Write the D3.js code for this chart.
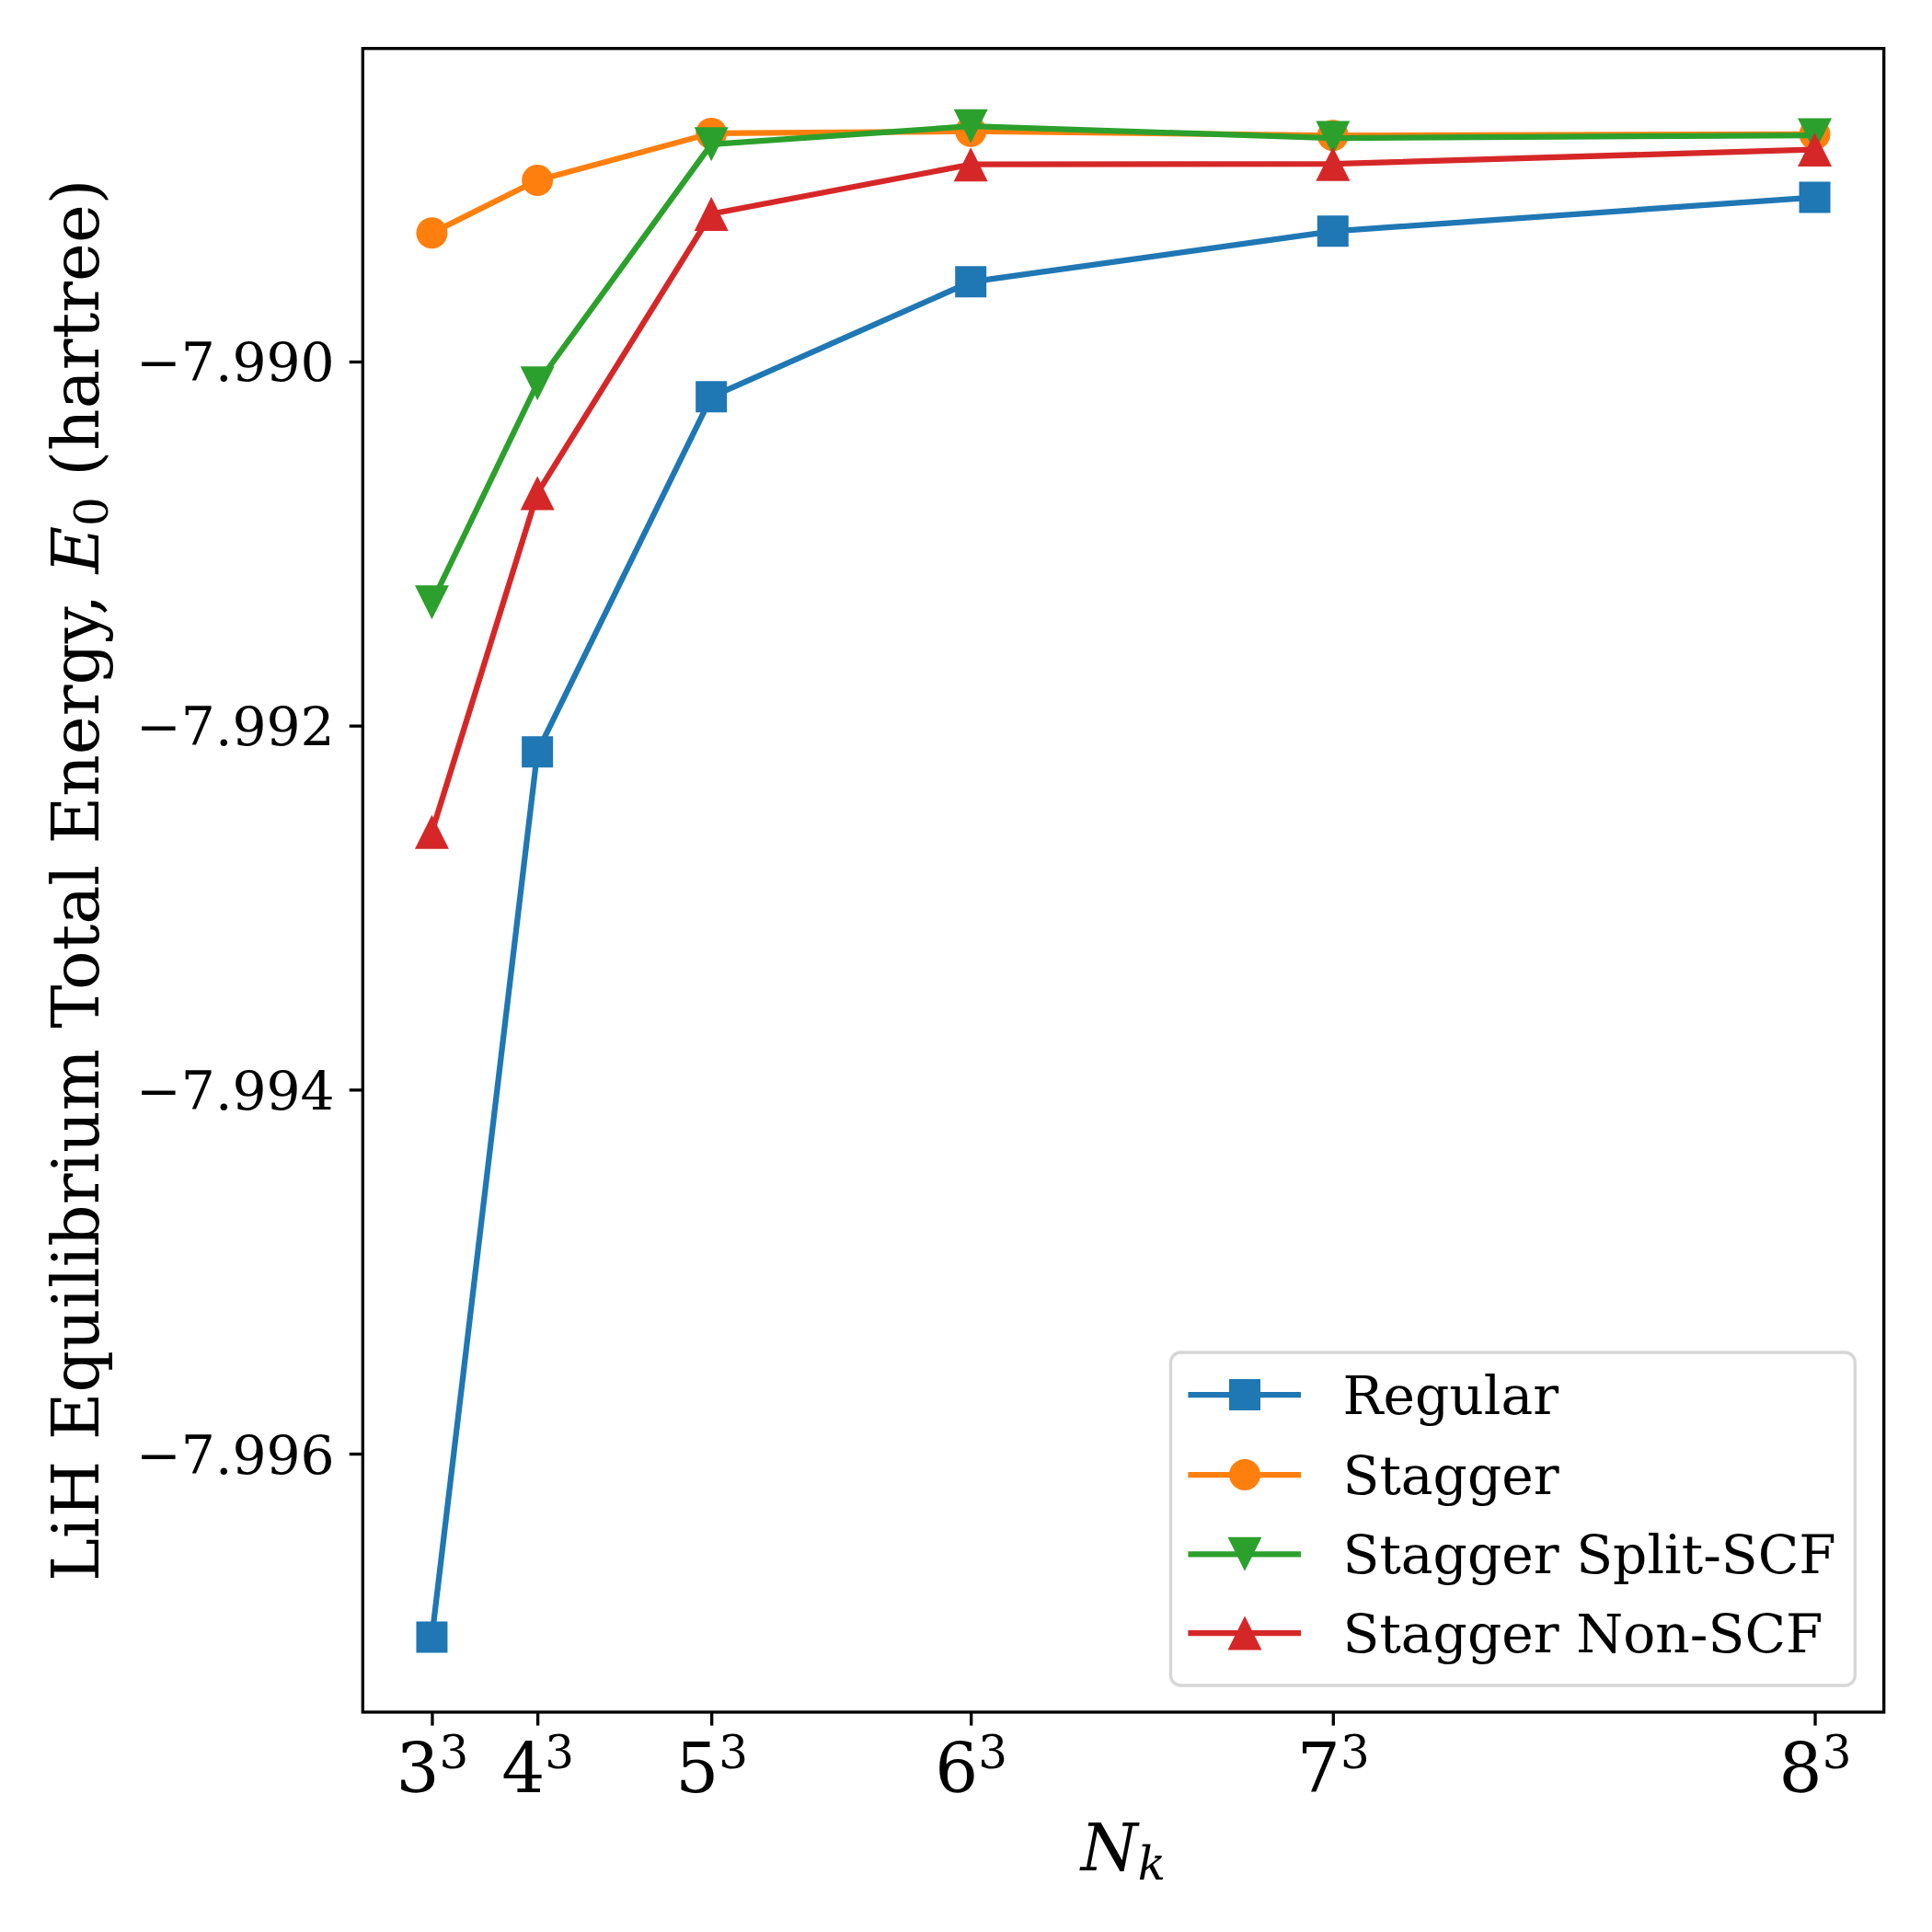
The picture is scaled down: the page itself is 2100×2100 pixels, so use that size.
<!DOCTYPE html>
<html>
<head>
<meta charset="utf-8">
<script src="https://cdn.jsdelivr.net/npm/d3@7"></script>
<style>
    body { margin: 0; background: #fff; }
    text { font-family: "DejaVu Serif", serif; fill: #000; }
</style>
</head>
<body>
<div id="chart"></div>
<script>
// k-point grids (n^3) along the x axis
var kBase = [3, 4, 5, 6, 7, 8];
var kPoints = [27, 64, 125, 216, 343, 512];

// LiH equilibrium total energy (hartree)
var regular = [-7.997008, -7.992145, -7.990194, -7.989562, -7.989284, -7.989098];
var stagger = [-7.989294, -7.989004, -7.988746, -7.988735, -7.988758, -7.988751];
var staggerSplit = [-7.991323, -7.990120, -7.988806, -7.988707, -7.988772, -7.988757];
var staggerNon = [-7.992584, -7.990723, -7.989189, -7.988917, -7.988914, -7.988835];

var seriesNames = ["Regular", "Stagger", "Stagger Split-SCF", "Stagger Non-SCF"];
var seriesColors = ["#1f77b4", "#ff7f0e", "#2ca02c", "#d62728"];
var seriesMarkers = ["square", "circle", "tri_down", "tri_up"];

var yTicks = [-7.990, -7.992, -7.994, -7.996];

var width = 2100;
var height = 2100;

// axes box in pixels
var axLeft = 394.3;
var axRight = 2047.7;
var axTop = 52.7;
var axBottom = 1861;

var svg = d3.select("#chart")
    .append("svg")
    .attr("width", width)
    .attr("height", height);

svg.append("rect")
    .attr("width", width)
    .attr("height", height)
    .attr("fill", "#fff");

// x limits padded by 5% like matplotlib does
var xPad = (d3.max(kPoints) - d3.min(kPoints)) * 0.05;
var x = d3.scaleLinear()
    .domain([d3.min(kPoints) - xPad, d3.max(kPoints) + xPad])
    .range([axLeft, axRight]);

var y = d3.scaleLinear()
    .domain([-7.99742, -7.98828])
    .range([axBottom, axTop]);

// marker shapes, centred on 0,0
function markerPath(kind) {
    var s = 17;
    if (kind === "square") {
        return "M" + (-s) + "," + (-s) + "H" + s + "V" + s + "H" + (-s) + "Z";
    }
    if (kind === "tri_up") {
        return "M0," + (-18.5) + "L18.5,18.5L-18.5,18.5Z";
    }
    if (kind === "tri_down") {
        return "M0,18.5L18.5,-18.5L-18.5,-18.5Z";
    }
    return null;
}

function drawMarker(g, kind, color, cx, cy) {
    if (kind === "circle") {
        g.append("circle")
            .attr("cx", cx)
            .attr("cy", cy)
            .attr("r", 17)
            .attr("fill", color);
    }
    else {
        g.append("path")
            .attr("transform", "translate(" + cx + "," + cy + ")")
            .attr("d", markerPath(kind))
            .attr("fill", color);
    }
}

// lines and markers
var allSeries = [regular, stagger, staggerSplit, staggerNon];
var line = d3.line()
    .x(function(d, i) { return x(kPoints[i]); })
    .y(function(d) { return y(d); });

var plot = svg.append("g");
allSeries.forEach(function(vals, si) {
    var g = plot.append("g");
    g.append("path")
        .datum(vals)
        .attr("fill", "none")
        .attr("stroke", seriesColors[si])
        .attr("stroke-width", 6.25)
        .attr("stroke-linejoin", "round")
        .attr("stroke-linecap", "square")
        .attr("d", line);
    vals.forEach(function(v, i) {
        drawMarker(g, seriesMarkers[si], seriesColors[si], x(kPoints[i]), y(v));
    });
});

// y axis
var yAxis = svg.append("g")
    .attr("transform", "translate(" + axLeft + ",0)")
    .call(d3.axisLeft(y)
        .tickValues(yTicks)
        .tickFormat(d3.format(".3f"))
        .tickSize(14.6)
        .tickSizeOuter(0)
        .tickPadding(16));
yAxis.select(".domain").remove();
yAxis.selectAll(".tick line").attr("stroke", "#000").attr("stroke-width", 3.33);
yAxis.selectAll(".tick text")
    .attr("font-size", 58.3)
    .attr("font-family", "DejaVu Serif")
    .attr("dy", "0.36em");

// x axis, labels as n^3
var xAxis = svg.append("g")
    .attr("transform", "translate(0," + axBottom + ")")
    .call(d3.axisBottom(x)
        .tickValues(kPoints)
        .tickFormat("")
        .tickSize(14.6)
        .tickSizeOuter(0));
xAxis.select(".domain").remove();
xAxis.selectAll(".tick line").attr("stroke", "#000").attr("stroke-width", 3.33);
xAxis.selectAll(".tick").each(function(d, i) {
    var t = d3.select(this).append("text")
        .attr("y", 87.3)
        .attr("text-anchor", "middle")
        .attr("font-size", 74);
    t.append("tspan").text(kBase[i]);
    t.append("tspan")
        .attr("font-size", 50)
        .attr("dy", -26.6)
        .text("3");
});

// frame
svg.append("rect")
    .attr("x", axLeft)
    .attr("y", axTop)
    .attr("width", axRight - axLeft)
    .attr("height", axBottom - axTop)
    .attr("fill", "none")
    .attr("stroke", "#000")
    .attr("stroke-width", 3.33);

// axis labels
var xLabel = svg.append("text")
    .attr("x", (axLeft + axRight) / 2)
    .attr("y", 2033.3)
    .attr("text-anchor", "middle")
    .attr("font-size", 70.8);
xLabel.append("tspan").attr("font-style", "italic").text("N");
xLabel.append("tspan")
    .attr("font-style", "italic")
    .attr("font-size", 50)
    .attr("dy", 9.5)
    .text("k");

var yLabel = svg.append("text")
    .attr("transform", "translate(107," + ((axTop + axBottom) / 2) + ") rotate(-90)")
    .attr("text-anchor", "middle")
    .attr("font-size", 70.8);
yLabel.append("tspan").text("LiH Equilibrium Total Energy, ");
yLabel.append("tspan").attr("font-style", "italic").text("E");
yLabel.append("tspan").attr("font-size", 50).attr("dy", 10).text("0");
yLabel.append("tspan").attr("dy", -10).text(" (hartree)");

// legend
var legX = 1272.5;
var legY = 1470;
var legend = svg.append("g");
legend.append("rect")
    .attr("x", legX)
    .attr("y", legY)
    .attr("width", 2016.3 - legX)
    .attr("height", 1832 - legY)
    .attr("rx", 11)
    .attr("fill", "#fff")
    .attr("fill-opacity", 0.8)
    .attr("stroke", "#d6d6d6")
    .attr("stroke-width", 3.33);

var rowY = [1516, 1603, 1689.3, 1775];
seriesNames.forEach(function(name, i) {
    var row = legend.append("g");
    row.append("line")
        .attr("x1", 1291.4)
        .attr("x2", 1414)
        .attr("y1", rowY[i])
        .attr("y2", rowY[i])
        .attr("stroke", seriesColors[i])
        .attr("stroke-width", 6.25);
    drawMarker(row, seriesMarkers[i], seriesColors[i], 1353, rowY[i]);
    row.append("text")
        .attr("x", 1459.5)
        .attr("y", rowY[i] + 21)
        .attr("font-size", 58.3)
        .text(name);
});
</script>
</body>
</html>
